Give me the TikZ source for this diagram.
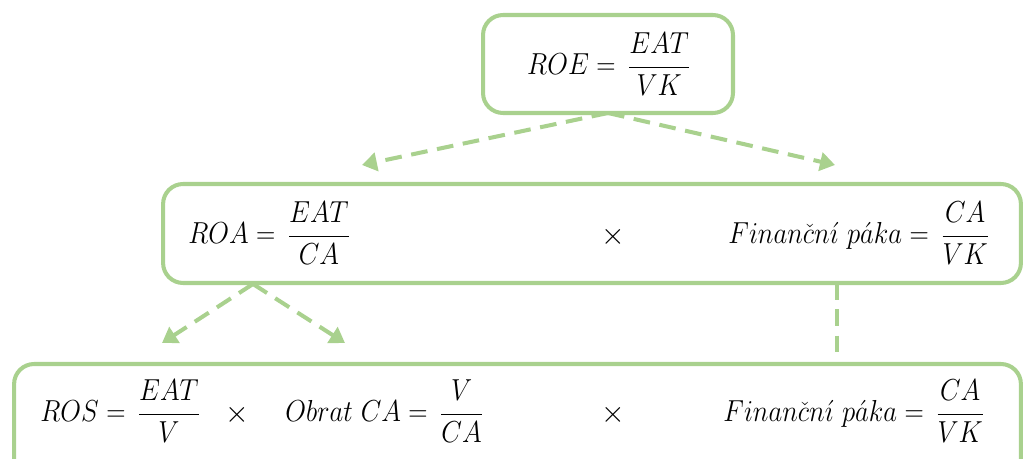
\documentclass[tikz,border=0pt]{standalone}
\usepackage{graphicx}
\usetikzlibrary{arrows.meta}
\definecolor{lgreen}{HTML}{A9D18E}
\newcommand{\fr}[2]{\displaystyle\frac{\strut #1}{\strut #2}}
\newcommand{\fm}[1]{\scalebox{0.88}[1]{$#1$}}
\newcommand{\fpaka}{Finan\check{c}n\acute{\imath}\,\,p\acute{a}ka}
\begin{document}
\begin{tikzpicture}[x=0.02cm,y=-0.02cm,
  box/.style={draw=lgreen, line width=2.3pt, rounded corners=0.4cm, inner sep=0pt, outer sep=0pt},
  link/.style={draw=lgreen, line width=2.3pt, dash pattern=on 9.5pt off 5.5pt},
  arr/.style={link, -{Triangle[length=8.5pt,width=10.5pt]}},
  fml/.style={inner sep=0pt, font=\fontsize{17}{19}\selectfont}]
\useasboundingbox (0,0) rectangle (1025,459);
\clip (0,0) rectangle (1025,459);
% boxes
\node[box, minimum width=5.0cm, minimum height=1.96cm] (top) at (608,64) {};
\node[box, minimum width=17.16cm, minimum height=1.98cm] (mid) at (592,233.5) {};
\node[box, minimum width=20.14cm, minimum height=2.72cm] (bot) at (517.5,432) {};
% formulas
\node[fml] (roe) at (609,68) {\fm{ROE =\,\fr{EAT}{VK}}};
\node[fml, anchor=west] (roa) at (188,237) {\fm{ROA =\,\fr{EAT}{CA}}};
\node[fml] (x1) at (613,237) {$\times$};
\node[fml, anchor=east] (fp1) at (990,237) {\fm{\fpaka =\,\fr{CA}{VK}}};
\node[fml, anchor=west] (ros) at (40,415) {\fm{ROS =\,\fr{EAT}{V}}};
\node[fml] (x2) at (237,415) {$\times$};
\node[fml, anchor=west] (obr) at (285,415) {\fm{Obrat\ CA =\,\fr{V}{CA}}};
\node[fml] (x3) at (613,415) {$\times$};
\node[fml, anchor=east] (fp2) at (985,415) {\fm{\fpaka =\,\fr{CA}{VK}}};
% connectors
\coordinate (a1) at (362,165);
\coordinate (a2) at (835,165);
\draw[arr] (top.south) -- (a1);
\draw[arr] (top.south) -- (a2);
\coordinate (m1) at (253,284);
\coordinate (b1) at (162,343);
\coordinate (b2) at (345,343);
\draw[arr] (m1) -- (b1);
\draw[arr] (m1) -- (b2);
\coordinate (v) at (837,0);
\draw[link] (mid.south -| v) -- (bot.north -| v);
\end{tikzpicture}
\end{document}
